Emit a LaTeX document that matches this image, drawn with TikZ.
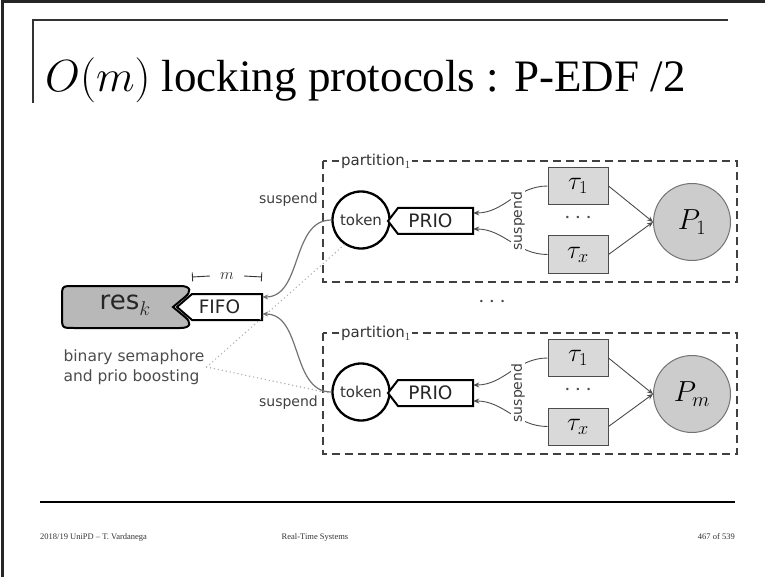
\RequirePackage{fix-cm}
\documentclass[tikz,border=0pt]{standalone}
\usepackage{fontspec}
\setmainfont{Liberation Serif}
\newfontfamily\dv{DejaVu Sans}
\usetikzlibrary{arrows.meta}
\begin{document}
\begin{tikzpicture}[x=1pt,y=-1pt,
  lbl/.style={font=\dv\fontsize{14}{16}\selectfont, text=black!75, inner sep=1pt},
  part/.style={draw=black!75, line width=1.1pt, dash pattern=on 8pt off 5pt},
  plabel/.style={font=\dv\fontsize{15}{17}\selectfont, text=black!80, fill=white, inner xsep=2pt, inner ysep=0pt, anchor=west},
  tok/.style={circle, draw=black, line width=2.3pt, fill=white, minimum size=57pt, inner sep=0pt, font=\dv\fontsize{15}{17}\selectfont, text=black!80},
  shapebox/.style={draw=black, line width=2pt, fill=white, line join=miter},
  boxtext/.style={font=\dv\fontsize{18.5}{20}\selectfont, text=black!85, inner sep=0pt, minimum height=26pt},
  task/.style={draw=black!70, line width=1pt, fill=black!15, minimum width=60pt, minimum height=37pt, inner sep=0pt, font=\fontsize{26}{28}\selectfont},
  proc/.style={circle, draw=black!55, line width=1pt, fill=black!20, minimum size=77pt, inner sep=0pt, font=\fontsize{29}{31}\selectfont},
  tarrow/.style={draw=black!70, line width=0.9pt, -{Stealth[length=6pt,width=5pt]}},
  conn/.style={draw=black!55, line width=1.2pt, -{Stealth[length=6pt,width=5pt]}},
  dotline/.style={draw=black!30, line width=1.6pt, dash pattern=on 0pt off 4pt, line cap=round},
  dotsnode/.style={font=\fontsize{24}{26}\selectfont, text=black!70, inner sep=0pt}
]
\useasboundingbox (0,0) rectangle (765,577);
% slide frame
\draw[line width=3pt, black!85] (2,577) -- (2,2) -- (765,2);
% title rule
\draw[line width=1.2pt, black!80] (33,103) -- (33,20) -- (728,20);
\node[anchor=base west, inner sep=0pt, font=\fontsize{45}{49}\selectfont] (title) at (45,92) {$O(m)$ locking protocols : P-EDF /2};
% footer
\draw[line width=2pt] (40,502) -- (735,502);
\node[anchor=base west, inner sep=0pt, font=\fontsize{8.5}{10}\selectfont, text=black!80] (f1) at (40,539) {2018/19 UniPD – T. Vardanega};
\node[anchor=base, inner sep=0pt, font=\fontsize{8.5}{10}\selectfont, text=black!80] (f2) at (315,539) {Real-Time Systems};
\node[anchor=base east, inner sep=0pt, font=\fontsize{8.5}{10}\selectfont, text=black!80] (f3) at (735,539) {467 of 539};

% partitions
\foreach \i/\dy/\P in {1/0/{P_1}, 2/172/{P_m}} {
  \begin{scope}[shift={(0,\dy)}]
    \draw[part] (323,161) rectangle (737,282);
    \node[plabel] (pl\i) at (339,161) {partition\raisebox{-3pt}{\fontsize{11}{12}\selectfont$1$}};
    \node[tok] (tok\i) at (361,220) {token};
    \draw[shapebox] (388,221) -- (398,208) -- (473,208) -- (473,234) -- (398,234) -- cycle;
    \node[boxtext, minimum width=85pt] (prio\i) at (430.5,221) {PRIO};
    \node[task] (ta\i) at (578,186) {$\tau_1$};
    \node[task] (tb\i) at (578,254.5) {$\tau_x$};
    \node[dotsnode] (d\i) at (578,218) {$\cdots$};
    \node[proc] (pr\i) at (692,222) {$\P$};
    \draw[tarrow] (ta\i.east) -- (pr\i.west);
    \draw[tarrow] (tb\i.east) -- (pr\i.west);
    \draw[tarrow] (ta\i.west) to[out=180,in=0] ([yshift=8pt]prio\i.east);
    \draw[tarrow] (tb\i.west) to[out=180,in=0] ([yshift=-8pt]prio\i.east);
    \node[lbl, rotate=90, fill=white, inner sep=0.5pt] (s\i) at (518,221) {suspend};
  \end{scope}
}
\node[dotsnode] (dmid) at (492,302) {$\cdots$};

% resource and FIFO
\draw[line width=2pt, fill=black!28] (74,286) -- (180,286) .. controls (192,286) and (191,292) .. (185,297) -- (173,307) -- (185,317) .. controls (191,322) and (192,328) .. (180,328) -- (74,328) .. controls (62,328) and (62,328) .. (62,316) -- (62,298) .. controls (62,286) and (62,286) .. (74,286) -- cycle;
\node[inner sep=0pt, font=\dv\fontsize{26}{28}\selectfont, text=black!85] (res) at (125,305) {res\raisebox{-6pt}{\fontsize{20}{22}\selectfont$k$}};
\draw[shapebox] (177,307) -- (192,294) -- (262,294) -- (262,320) -- (192,320) -- cycle;
\node[boxtext, minimum width=85pt] (fifo) at (219.5,307) {FIFO};

% m dimension
\node[inner xsep=10pt, inner ysep=2pt, font=\fontsize{16}{18}\selectfont, text=black!80] (mdim) at (227,276) {$m$};
\draw[line width=0.9pt, black!80, {Bar[width=9pt]}-] (192,277) -- (mdim.west);
\draw[line width=0.9pt, black!80, -{Bar[width=9pt]}] (mdim.east) -- (262,277);

% semaphore label and dotted lines
\node[align=left, inner sep=2pt, font=\dv\fontsize{15.5}{20}\selectfont, text=black!70] (bsem) at (134,367) {binary semaphore\\and prio boosting};
\draw[dotline] (bsem.east) -- (tok1.236);
\draw[dotline] (bsem.east) -- (tok2.183);

% token to FIFO connectors
\draw[conn] (tok1.west) to[out=180,in=0] ([yshift=10pt]fifo.east);
\draw[conn] (tok2.west) to[out=180,in=0] ([yshift=-7pt]fifo.east);
\node[lbl, anchor=east] (su1) at (319,200) {suspend};
\node[lbl, anchor=east] (su2) at (319,403) {suspend};
\end{tikzpicture}
\end{document}
